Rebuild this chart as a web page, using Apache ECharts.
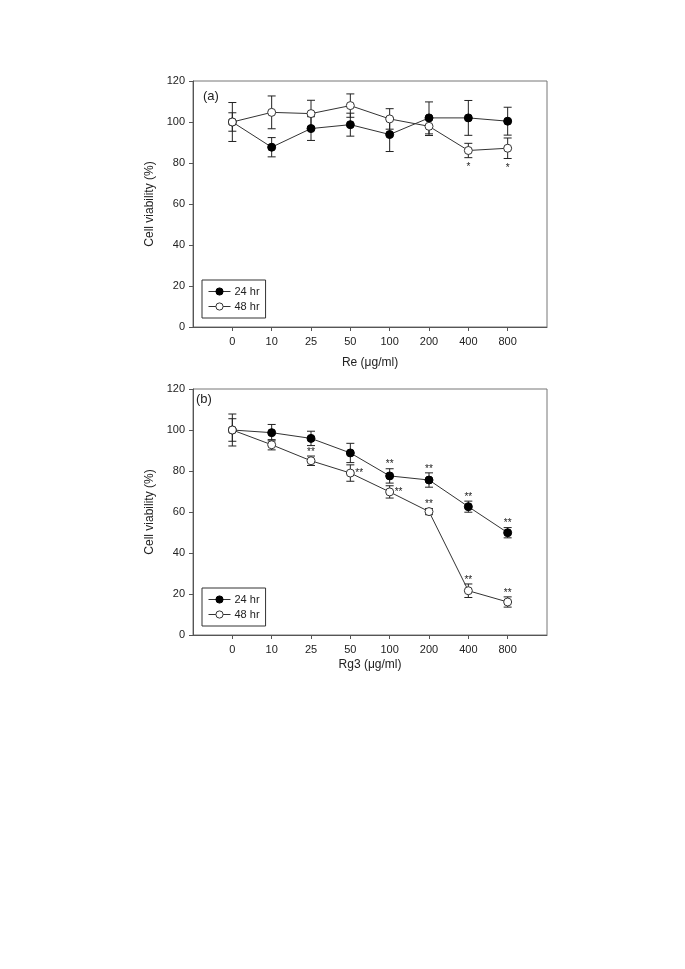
<!DOCTYPE html>
<html>
<head>
<meta charset="utf-8">
<script src="https://cdn.jsdelivr.net/npm/echarts@6/dist/echarts.min.js"></script>
<style>
html,body{margin:0;padding:0;background:#fff;}
#chart{width:685px;height:969px;}
</style>
</head>
<body>
<div id="chart"></div>
<script>
const categories = ['0', '10', '25', '50', '100', '200', '400', '800'];
const yTicks = [0, 20, 40, 60, 80, 100, 120];

// Panel (a): Re
const re24 = [100, 87.7, 96.8, 98.7, 93.9, 102, 102, 100.4];
const re24Err = [4.5, 4.7, 5.8, 5.6, 8.3, 7.8, 8.5, 6.8];
const re48 = [100, 104.7, 104.1, 108, 101.5, 97.9, 86.1, 87.2];
const re48Err = [9.5, 8, 6.5, 5.7, 5, 4.5, 3.5, 5];
const reSig24 = ['', '', '', '', '', '', '', ''];
const reSig48 = ['', '', '', '', '', '', '*', '*'];
const reSig24Pos = ['', '', '', '', '', '', '', ''];
const reSig48Pos = ['', '', '', '', '', '', 'bottom', 'bottom'];

// Panel (b): Rg3
const rg24 = [100, 98.7, 95.9, 88.8, 77.6, 75.6, 62.6, 49.9];
const rg24Err = [5.5, 4, 3.5, 4.7, 3.5, 3.5, 2.7, 2.5];
const rg48 = [100, 92.8, 85, 79, 69.8, 60.2, 21.6, 16.1];
const rg48Err = [7.8, 2.5, 2.3, 4, 3, 1.5, 3.3, 2.5];
const rgSig24 = ['', '', '', '', '**', '**', '**', '**'];
const rgSig48 = ['', '', '**', '**', '**', '**', '**', '**'];
const rgSig24Pos = ['', '', '', '', 'top', 'top', 'top', 'top'];
const rgSig48Pos = ['', '', 'top', 'right', 'right', 'top', 'top', 'top'];

const FONT = 'Liberation Sans, Arial, sans-serif';
const idx = categories.map((c, i) => i);
const AX = '#555';

function errSeries(gi, means, errs, sigs, pos) {
  return {
    type: 'custom',
    xAxisIndex: gi, yAxisIndex: gi,
    z: 1,
    silent: true,
    data: means.map((m, i) => [i, m, errs[i]]),
    renderItem: function (params, api) {
      const i = params.dataIndex;
      const x = api.value(0), m = api.value(1), e = api.value(2);
      const top = api.coord([x, m + e]);
      const bot = api.coord([x, m - e]);
      const ctr = api.coord([x, m]);
      const w = 4;
      const st = { stroke: '#222', lineWidth: 1 };
      const children = [
        { type: 'line', shape: { x1: top[0], y1: top[1], x2: bot[0], y2: bot[1] }, style: st },
        { type: 'line', shape: { x1: top[0] - w, y1: top[1], x2: top[0] + w, y2: top[1] }, style: st },
        { type: 'line', shape: { x1: bot[0] - w, y1: bot[1], x2: bot[0] + w, y2: bot[1] }, style: st }
      ];
      const s = sigs[i];
      if (s) {
        let tx = ctr[0], ty, align = 'center', va = 'bottom';
        if (pos[i] === 'top') { ty = top[1] + 1; va = 'bottom'; }
        else if (pos[i] === 'bottom') { ty = bot[1] + 5; va = 'top'; }
        else { tx = ctr[0] + 5; ty = ctr[1] + 5; align = 'left'; va = 'bottom'; }
        children.push({ type: 'text', style: { x: tx, y: ty, text: s, fill: '#222', font: '10px ' + FONT, align: align, verticalAlign: va } });
      }
      return { type: 'group', children: children };
    }
  };
}

function lineSeries(gi, name, vals, filled) {
  return {
    type: 'line', name: name,
    xAxisIndex: gi, yAxisIndex: gi,
    z: 3,
    data: vals.map((v, i) => [i, v]),
    symbol: 'circle', symbolSize: 8, showSymbol: true,
    lineStyle: { color: '#333', width: 1 },
    itemStyle: filled ? { color: '#000', borderColor: '#000', borderWidth: 1 } : { color: '#fff', borderColor: '#333', borderWidth: 1 },
    emphasis: { disabled: true },
    animation: false
  };
}

function xAxis(gi, title, gap) {
  return {
    type: 'value', gridIndex: gi, min: -1, max: 8, interval: 1,
    name: title, nameLocation: 'middle', nameGap: gap,
    nameTextStyle: { fontFamily: FONT, fontSize: 12, color: '#222' },
    axisLine: { show: true, onZero: false, lineStyle: { color: AX, width: 1 } },
    axisTick: { show: true, inside: false, length: 4, lineStyle: { color: AX }, customValues: idx },
    axisLabel: { customValues: idx, formatter: v => categories[v], fontFamily: FONT, fontSize: 11, color: '#222', margin: 9 },
    splitLine: { show: false }
  };
}

function yAxis(gi) {
  return {
    type: 'value', gridIndex: gi, min: yTicks[0], max: yTicks[yTicks.length - 1], interval: 20,
    name: 'Cell viability (%)', nameLocation: 'middle', nameGap: 37, nameRotate: 90,
    nameTextStyle: { fontFamily: FONT, fontSize: 12, color: '#222' },
    axisLine: { show: true, onZero: false, lineStyle: { color: AX, width: 1 } },
    axisTick: { show: true, inside: false, length: 4, lineStyle: { color: AX } },
    axisLabel: { fontFamily: FONT, fontSize: 11, color: '#222', margin: 8 },
    splitLine: { show: false }
  };
}

function legend(top) {
  return {
    left: 202, top: top, orient: 'vertical',
    itemWidth: 22, itemHeight: 9, itemGap: 4,
    padding: [6, 6, 6, 6],
    borderColor: '#333', borderWidth: 1,
    selectedMode: false,
    lineStyle: { width: 1 },
    itemStyle: { borderWidth: 1 },
    textStyle: { fontFamily: FONT, fontSize: 11, color: '#222', padding: [0, 0, 0, -1] },
    data: ['24 hr', '48 hr']
  };
}

const chart = echarts.init(document.getElementById('chart'), null, { renderer: 'canvas' });
chart.setOption({
  animation: false,
  backgroundColor: '#fff',
  grid: [
    { left: 193, top: 81, width: 354, height: 246, show: true, borderColor: '#777', borderWidth: 1, backgroundColor: 'transparent' },
    { left: 193, top: 389, width: 354, height: 246, show: true, borderColor: '#777', borderWidth: 1, backgroundColor: 'transparent' }
  ],
  xAxis: [xAxis(0, 'Re (μg/ml)', 30), xAxis(1, 'Rg3 (μg/ml)', 24)],
  yAxis: [yAxis(0), yAxis(1)],
  legend: [legend(280), legend(588)],
  graphic: [
    { type: 'text', left: 203, top: 90, style: { text: '(a)', font: '13px ' + FONT, fill: '#222' } },
    { type: 'text', left: 196, top: 393, style: { text: '(b)', font: '13px ' + FONT, fill: '#222' } }
  ],
  series: [
    errSeries(0, re24, re24Err, reSig24, reSig24Pos),
    errSeries(0, re48, re48Err, reSig48, reSig48Pos),
    lineSeries(0, '24 hr', re24, true),
    lineSeries(0, '48 hr', re48, false),
    errSeries(1, rg24, rg24Err, rgSig24, rgSig24Pos),
    errSeries(1, rg48, rg48Err, rgSig48, rgSig48Pos),
    lineSeries(1, '24 hr', rg24, true),
    lineSeries(1, '48 hr', rg48, false)
  ]
});
</script>
</body>
</html>
